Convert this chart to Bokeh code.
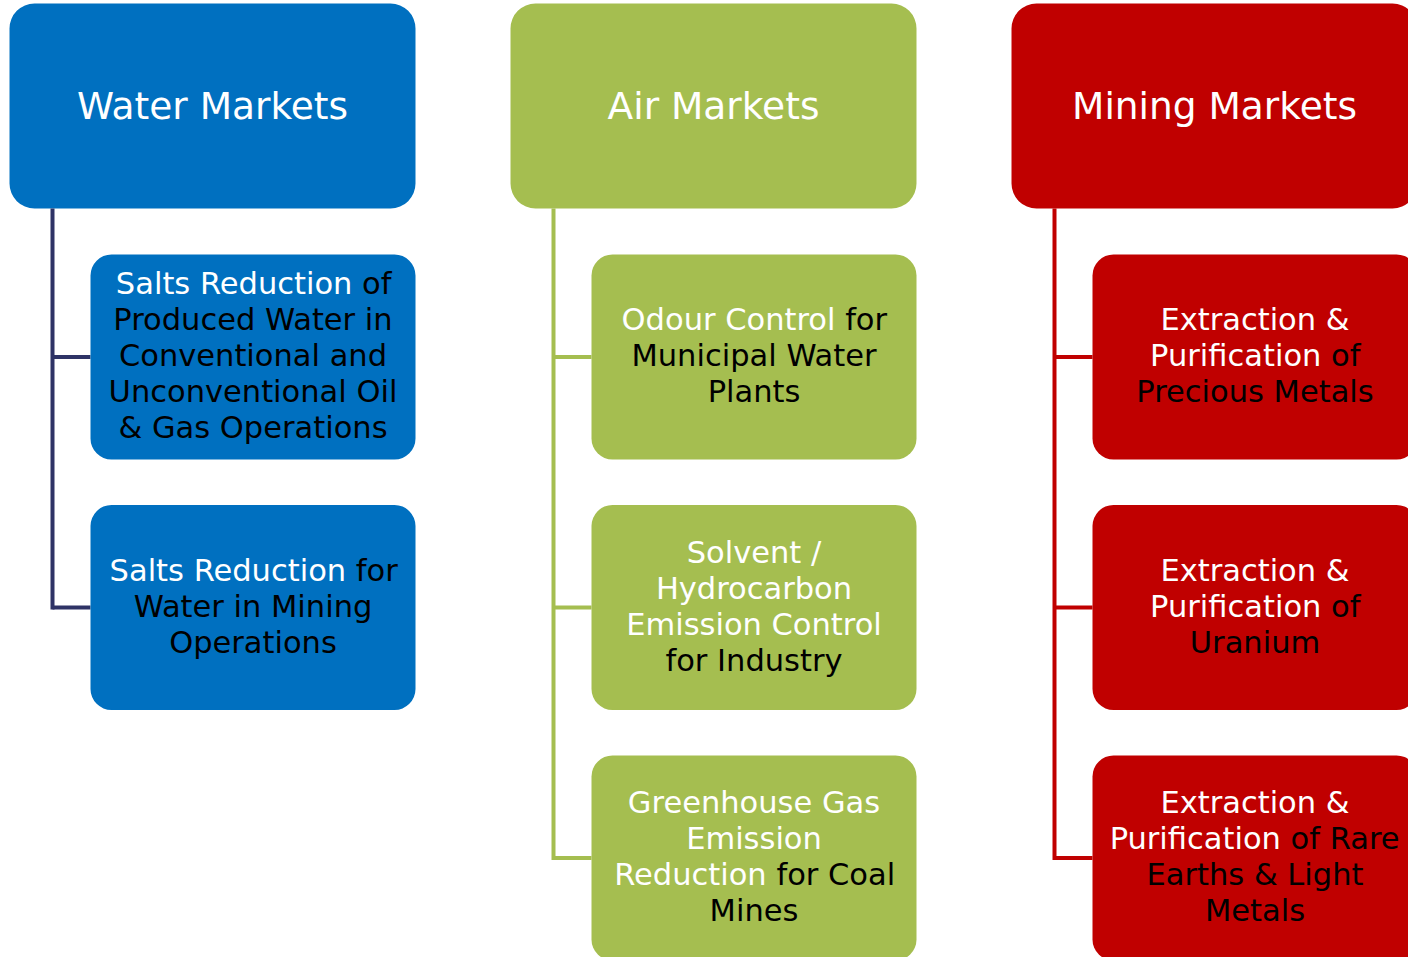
from bokeh.plotting import figure
from bokeh.models import ColumnDataSource, Range1d
from bokeh.core.properties import value
from bokeh.embed import file_html
from bokeh.resources import INLINE

# ---------------- data ----------------
markets = ["Water Markets", "Air Markets", "Mining Markets"]
market_colors = ["#0070C0", "#A5BE50", "#C00000"]
connector_colors = ["#2E3366", "#A5BE50", "#C00000"]

# each line: (white part, black part)
water_items = [
    [("Salts Reduction", "of"), ("", "Produced Water in"), ("", "Conventional and"),
     ("", "Unconventional Oil"), ("", "& Gas Operations")],
    [("Salts Reduction", "for"), ("", "Water in Mining"), ("", "Operations")],
]
air_items = [
    [("Odour Control", "for"), ("", "Municipal Water"), ("", "Plants")],
    [("Solvent /", ""), ("Hydrocarbon", ""), ("Emission Control", ""), ("", "for Industry")],
    [("Greenhouse Gas", ""), ("Emission", ""), ("Reduction", "for Coal"), ("", "Mines")],
]
mining_items = [
    [("Extraction &", ""), ("Purification", "of"), ("", "Precious Metals")],
    [("Extraction &", ""), ("Purification", "of"), ("", "Uranium")],
    [("Extraction &", ""), ("Purification", "of Rare"), ("", "Earths & Light"), ("", "Metals")],
]
columns_items = [water_items, air_items, mining_items]

# ---------------- layout parameters ----------------
W, H = 1408, 957
col_left = [9, 510, 1011]
head_w, head_top, head_bot = 406, 3, 208
sub_dx, sub_w, sub_h = 81, 325, 205
sub_top0, sub_pitch = 254, 250.5
line_dx = 43
line_gap = 36
FONT = "DejaVu Sans"
TITLE_SIZE = 37.5
BODY_SIZE = 30.5

DV = {' ': 651, '&': 1595, '/': 690, 'A': 1401, 'C': 1430, 'E': 1294, 'G': 1577, 'H': 1540,
      'I': 604, 'L': 1141, 'M': 1767, 'O': 1612, 'P': 1235, 'R': 1423, 'S': 1300, 'U': 1499,
      'W': 2025, 'a': 1255, 'b': 1300, 'c': 1126, 'd': 1300, 'e': 1260, 'f': 721, 'g': 1300,
      'h': 1298, 'i': 569, 'k': 1186, 'l': 569, 'm': 1995, 'n': 1298, 'o': 1253, 'p': 1300,
      'r': 842, 's': 1067, 't': 803, 'u': 1298, 'v': 1212, 'x': 1212, 'y': 1212}


def tw(s, size):
    return sum(DV.get(ch, 1200) for ch in s) / 2048.0 * size


def Y(py):
    return H - py


p = figure(width=W, height=H, x_range=Range1d(0, W), y_range=Range1d(0, H),
           output_backend="svg", toolbar_location=None, min_border=0,
           background_fill_color="white", border_fill_color="white")
p.axis.visible = False
p.grid.visible = False
p.outline_line_color = None

# header boxes
hl, hr, ht, hb = [], [], [], []
for L in col_left:
    hl.append(L); hr.append(L + head_w); ht.append(Y(head_top)); hb.append(Y(head_bot))
p.quad(left=hl, right=hr, top=ht, bottom=hb, fill_color=market_colors,
       line_color=None, border_radius=25)

# sub boxes, connectors, texts
sl, sr, st, sb, sc = [], [], [], [], []
seg = dict(x0=[], y0=[], x1=[], y1=[], c=[])
txt = dict(x=[], y=[], t=[], c=[], a=[])

for ci, items in enumerate(columns_items):
    L = col_left[ci]
    lx = L + line_dx
    centers = []
    for i, lines in enumerate(items):
        top = sub_top0 + i * sub_pitch
        cy = top + sub_h / 2
        centers.append(cy)
        sl.append(L + sub_dx); sr.append(L + sub_dx + sub_w)
        st.append(Y(top)); sb.append(Y(top + sub_h)); sc.append(market_colors[ci])
        # horizontal connector
        seg["x0"].append(lx); seg["y0"].append(Y(cy)); seg["x1"].append(L + sub_dx)
        seg["y1"].append(Y(cy)); seg["c"].append(connector_colors[ci])
        cx = L + sub_dx + sub_w / 2
        n = len(lines)
        for k, (wpart, bpart) in enumerate(lines):
            ly = Y(cy + (k - (n - 1) / 2) * line_gap - 1.5)
            if wpart and bpart:
                full = tw(wpart + " " + bpart, BODY_SIZE)
                x0 = cx - full / 2
                split = x0 + tw(wpart, BODY_SIZE)
                txt["x"].append(split); txt["y"].append(ly); txt["t"].append(wpart)
                txt["c"].append("#FFFFFF"); txt["a"].append("right")
                txt["x"].append(split + tw(" ", BODY_SIZE)); txt["y"].append(ly)
                txt["t"].append(bpart); txt["c"].append("#000000"); txt["a"].append("left")
            else:
                s = wpart or bpart
                txt["x"].append(cx); txt["y"].append(ly); txt["t"].append(s)
                txt["c"].append("#FFFFFF" if wpart else "#000000"); txt["a"].append("center")
    # vertical connector
    seg["x0"].append(lx); seg["y0"].append(Y(head_bot)); seg["x1"].append(lx)
    seg["y1"].append(Y(centers[-1]) - 2); seg["c"].append(connector_colors[ci])

p.segment(x0="x0", y0="y0", x1="x1", y1="y1", line_color="c", line_width=4,
          source=ColumnDataSource(seg))
p.quad(left=sl, right=sr, top=st, bottom=sb, fill_color=sc, line_color=None, border_radius=21)

# titles
p.text(x=[L + head_w / 2 for L in col_left], y=[Y(105)] * 3, text=markets,
       text_color="#FFFFFF", text_font=value(FONT), text_font_size=f"{TITLE_SIZE}px",
       text_align="center", text_baseline="middle")

p.text(x="x", y="y", text="t", text_color="c", text_align="a", source=ColumnDataSource(txt),
       text_font=value(FONT), text_font_size=f"{BODY_SIZE}px", text_baseline="middle")

open("out.html", "w").write(file_html(p, INLINE))
